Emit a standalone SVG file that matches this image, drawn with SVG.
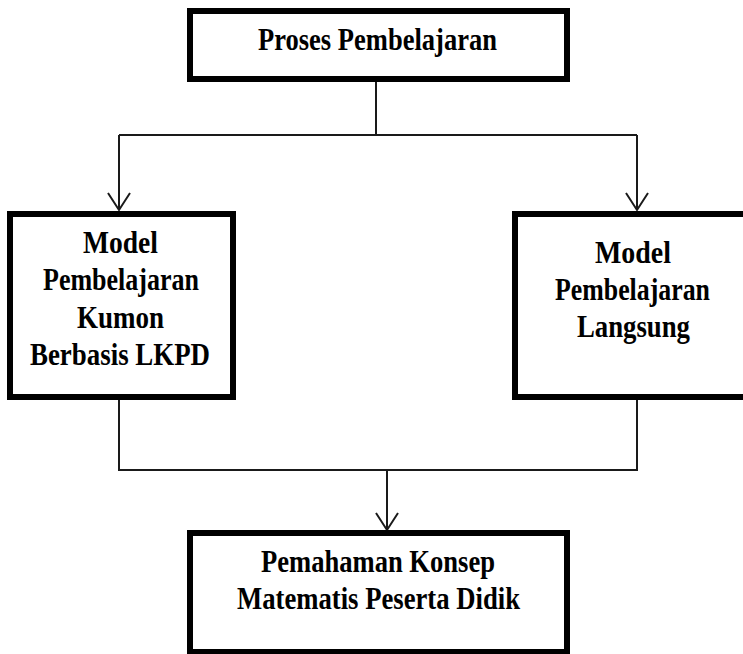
<svg xmlns="http://www.w3.org/2000/svg" width="743" height="654" viewBox="0 0 743 654">
<style>
.box{fill:#fff;stroke:#000;stroke-width:6}
.t{font-family:"Liberation Serif","Times New Roman",serif;font-weight:bold;font-size:31px;fill:#000;text-anchor:middle}
.c{fill:none;stroke:#1a1a1a;stroke-width:2}
</style>
<rect width="743" height="654" fill="#fff"/>
<g id="connectors">
<path class="c" d="M376 79V135M119 135H637M119 135V210M637 135V210"/>
<path class="c" d="M108 193L119 210L130 193M626 193L637 210L648 193"/>
<path class="c" d="M119 397V470H637V397M387 470V530"/>
<path class="c" d="M376 513L387 530L398 513"/>
</g>
<g id="proses">
<rect class="box" x="190" y="11" width="377" height="68"/>
<text class="t" x="377.5" y="50" textLength="239" lengthAdjust="spacingAndGlyphs">Proses Pembelajaran</text>
</g>
<g id="kumon">
<rect class="box" x="10" y="214" width="223" height="183"/>
<text class="t" x="120.5" y="253" textLength="75" lengthAdjust="spacingAndGlyphs">Model</text>
<text class="t" x="121" y="290" textLength="156" lengthAdjust="spacingAndGlyphs">Pembelajaran</text>
<text class="t" x="120.5" y="328" textLength="87" lengthAdjust="spacingAndGlyphs">Kumon</text>
<text class="t" x="120" y="365" textLength="180" lengthAdjust="spacingAndGlyphs">Berbasis LKPD</text>
</g>
<g id="langsung">
<rect class="box" x="515" y="214" width="240" height="183"/>
<text class="t" x="633" y="263" textLength="76" lengthAdjust="spacingAndGlyphs">Model</text>
<text class="t" x="632.5" y="300" textLength="155" lengthAdjust="spacingAndGlyphs">Pembelajaran</text>
<text class="t" x="633.5" y="337" textLength="113" lengthAdjust="spacingAndGlyphs">Langsung</text>
</g>
<g id="pemahaman">
<rect class="box" x="190" y="533" width="377" height="119"/>
<text class="t" x="378" y="572" textLength="234" lengthAdjust="spacingAndGlyphs">Pemahaman Konsep</text>
<text class="t" x="378.5" y="609" textLength="283" lengthAdjust="spacingAndGlyphs">Matematis Peserta Didik</text>
</g>
</svg>
